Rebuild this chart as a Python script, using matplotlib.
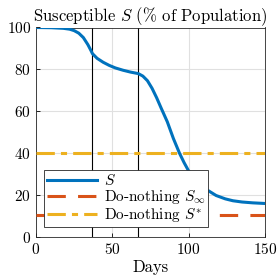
import matplotlib
matplotlib.use("Agg")
import matplotlib.pyplot as plt

days = [0, 10, 18, 22, 25, 28, 31, 34, 36, 37, 40, 44, 48, 52, 57, 62, 67, 70, 73, 76, 79, 82, 86, 90, 94, 97, 100, 104, 107, 112, 118, 124, 129, 135, 142, 150]
S = [100, 99.9, 99.6, 99.2, 98.5, 97.3, 95.2, 91.8, 89.0, 87.5, 85.3, 83.4, 81.9, 80.7, 79.6, 78.7, 78.0, 76.8, 74.6, 71.0, 66.5, 61.5, 55.0, 47.0, 40.0, 35.5, 31.5, 28.0, 25.8, 22.5, 19.8, 18.2, 17.3, 16.7, 16.3, 16.0]
S_inf = 10.6
S_star = 40.0
vlines = [37, 67]

plt.rcParams['font.family'] = ['cmr10', 'DejaVu Serif']
plt.rcParams['mathtext.fontset'] = 'cm'
plt.rcParams['axes.formatter.use_mathtext'] = True

fig = plt.figure(figsize=(2.77, 2.80), dpi=100)
ax = fig.add_axes([36/277, 1-237/280, (265-36)/277, (237-27.5)/280])

ax.grid(True, color='#e0e0e0', linewidth=0.8, zorder=0)
for v in vlines:
    ax.axvline(v, color='black', linewidth=0.8, zorder=2)
ax.plot(days, S, color='#0072BD', linewidth=2.2, label='$S$', zorder=3)
ax.plot([0, 150], [S_inf, S_inf], color='#D95319', linewidth=2.2, dashes=(6, 4), label=r'Do-nothing $S_\infty$', zorder=3)
ax.plot([0, 150], [S_star, S_star], color='#EDB120', linewidth=2.2, dashes=(6, 2, 2, 2), label=r'Do-nothing $S^{*}$', zorder=3)

ax.set_xlim(0, 150)
ax.set_ylim(0, 100)
ax.set_xticks([0, 50, 100, 150])
ax.set_yticks([0, 20, 40, 60, 80, 100])
ax.tick_params(direction='in', length=3, labelsize=11, width=0.6)
for s in ax.spines.values():
    s.set_linewidth(0.6)
    s.set_color('#262626')
ax.set_xlabel('Days', fontsize=12, labelpad=2)
ax.set_title(r'Susceptible $S$ (% of Population)', fontsize=12, pad=3)
leg = ax.legend(loc='lower left', bbox_to_anchor=(8/229, 10/209.5), fontsize=11,
                frameon=True, fancybox=False, edgecolor='#262626', framealpha=1,
                borderpad=0.2, labelspacing=0.0, handlelength=3.3, handletextpad=0.4,
                borderaxespad=0)
leg.get_frame().set_linewidth(0.6)
fig.savefig('out.png', dpi=100)
